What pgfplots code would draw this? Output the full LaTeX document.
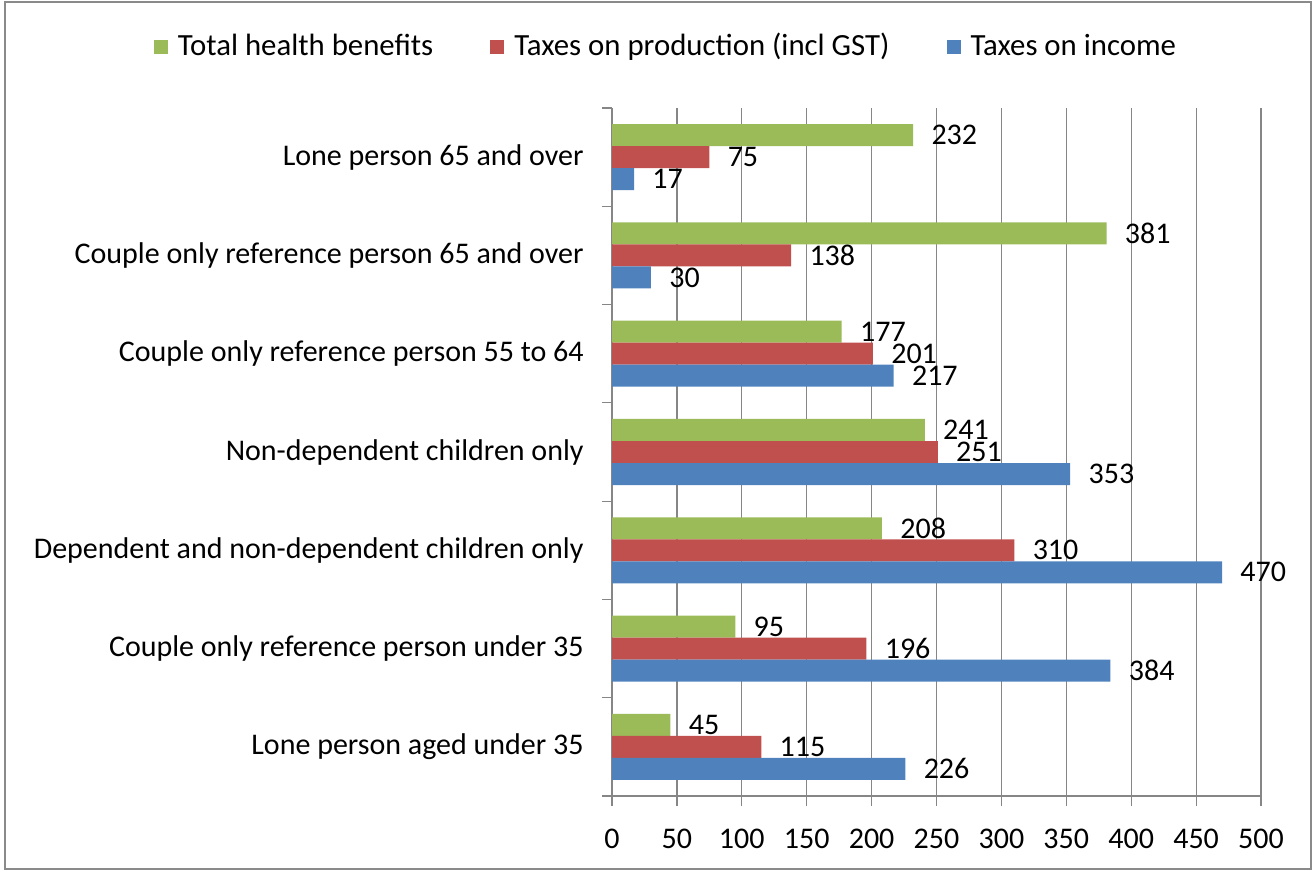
\documentclass[border=0pt]{standalone}
\usepackage{pgfplots}
\pgfplotsset{compat=1.18}
\usepackage{fontspec}
\setmainfont{Carlito}
\definecolor{cgreen}{HTML}{9BBB59}
\definecolor{cred}{HTML}{C0504D}
\definecolor{cblue}{HTML}{4F81BD}
\definecolor{cgrid}{HTML}{868686}
\definecolor{cborder}{HTML}{8A8A8A}
\newcommand{\chartfont}{\fontsize{15}{18}\selectfont}
\begin{document}
\chartfont
\begin{tikzpicture}[font=\chartfont]
\useasboundingbox (0,0) rectangle (657.5pt,437.5pt);
\draw[cborder, line width=1.2pt] (2.5pt,3pt) rectangle (655.5pt,436.5pt);
\begin{axis}[
  at={(306pt,39.5pt)}, anchor=south west,
  scale only axis, width=324.5pt, height=344pt,
  xbar, xmin=0, xmax=500, ymin=-0.5, ymax=6.5,
  bar width=0.224,
  axis lines=left,
  axis line style={-, cgrid, line width=0.6pt},
  xtick={0,50,...,500},
  ytick={0,...,6},
  yticklabels={Lone person aged under 35,
    Couple only reference person under 35,
    Dependent and non-dependent children only,
    Non-dependent children only,
    Couple only reference person 55 to 64,
    Couple only reference person 65 and over,
    Lone person 65 and over},
  minor ytick={-0.5,0.5,...,6.5},
  tick align=outside,
  major tick length=5pt, minor tick length=5pt,
  tick style={cgrid, line width=0.6pt},
  major y tick style={draw=none},
  xmajorgrids,
  grid style={cgrid, line width=0.6pt},
  /pgf/number format/assume math mode=true,
  xticklabel style={font=\chartfont, text=black, yshift=-6.5pt},
  yticklabel style={font=\chartfont, text=black, xshift=-4pt},
  nodes near coords,
  every node near coord/.append style={font=\chartfont, text=black, anchor=west, inner sep=0pt, xshift=9pt},
  legend columns=3,
  legend cell align=left,
  legend image code/.code={\fill[#1] (0pt,-3.5pt) rectangle (7pt,3.5pt);},
  legend style={draw=none, fill=none, font=\fontsize{15.4}{18}\selectfont,
    at={(0.0847,1.0887)}, anchor=center,
    /tikz/every odd column/.append style={column sep=3pt},
    /tikz/every even column/.append style={column sep=26.5pt}},
]
\addplot[fill=cgreen, draw=none, bar shift=0.224] coordinates {
  (45,0) (95,1) (208,2) (241,3) (177,4) (381,5) (232,6)};
\addlegendentry{Total health benefits}
\addplot[fill=cred, draw=none, bar shift=0] coordinates {
  (115,0) (196,1) (310,2) (251,3) (201,4) (138,5) (75,6)};
\addlegendentry{Taxes on production (incl GST)}
\addplot[fill=cblue, draw=none, bar shift=-0.224] coordinates {
  (226,0) (384,1) (470,2) (353,3) (217,4) (30,5) (17,6)};
\addlegendentry{Taxes on income}
\end{axis}
\end{tikzpicture}
\end{document}
